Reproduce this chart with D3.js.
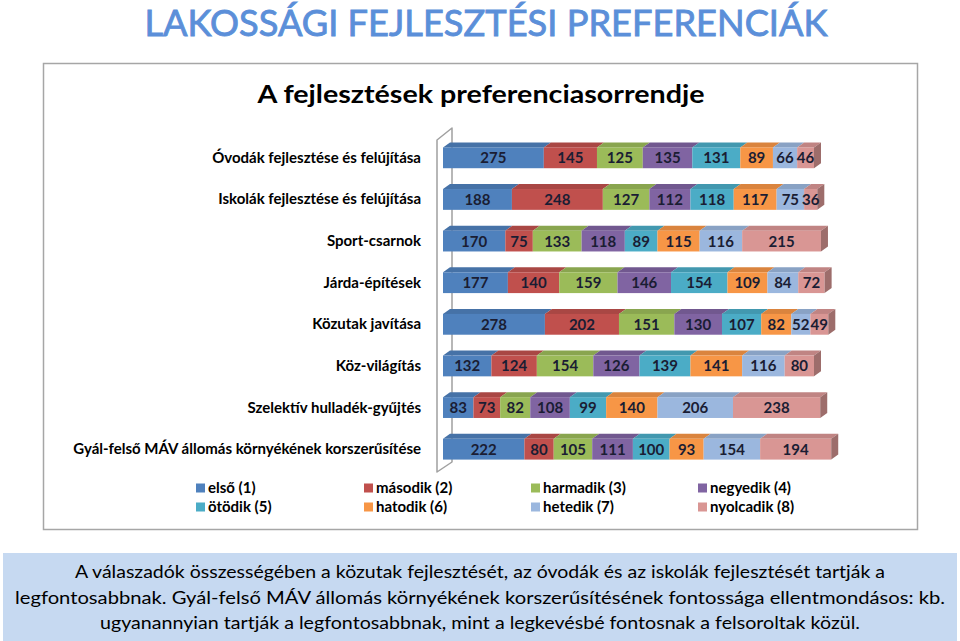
<!DOCTYPE html>
<html><head><meta charset="utf-8">
<script src="https://cdn.jsdelivr.net/npm/d3@7/dist/d3.min.js"></script>
<style>body{margin:0;background:#fff}svg{display:block}</style>
</head><body>
<svg id="c" width="960" height="641"></svg>
<script>
const categories = ["Óvodák fejlesztése és felújítása","Iskolák fejlesztése és felújítása","Sport-csarnok","Járda-építések","Közutak javítása","Köz-világítás","Szelektív hulladék-gyűjtés","Gyál-felső MÁV állomás környékének korszerűsítése"];
const seriesNames = ["első (1)","második (2)","harmadik (3)","negyedik (4)","ötödik (5)","hatodik (6)","hetedik (7)","nyolcadik (8)"];
const s1 = [275,188,170,177,278,132,83,222];
const s2 = [145,248,75,140,202,124,73,80];
const s3 = [125,127,133,159,151,154,82,105];
const s4 = [135,112,118,146,130,126,108,111];
const s5 = [131,118,89,154,107,139,99,100];
const s6 = [89,117,115,109,82,141,140,93];
const s7 = [66,75,116,84,52,116,206,154];
const s8 = [46,36,215,72,49,80,238,194];
const colors = ["#4F81BD","#C0504D","#9BBB59","#8064A2","#4BACC6","#F79646","#9BB7DE","#D99694"];
const pageTitle = "LAKOSSÁGI FEJLESZTÉSI PREFERENCIÁK";
const chartTitle = "A fejlesztések preferenciasorrendje";
const noteLines = ["A válaszadók összességében a közutak fejlesztését, az óvodák és az iskolák fejlesztését tartják a","legfontosabbnak. Gyál-felső MÁV állomás környékének korszerűsítésének fontossága ellentmondásos:  kb.","ugyanannyian tartják a legfontosabbnak, mint a legkevésbé fontosnak a felsoroltak közül."];

const series = [s1,s2,s3,s4,s5,s6,s7,s8];
const rows = categories.map((c,i)=>{const o={cat:c}; series.forEach((s,j)=>o["k"+j]=s[i]); return o;});
const keys = series.map((s,j)=>"k"+j);
const stacked = d3.stack().keys(keys)(rows);

const svg = d3.select("#c");
const font = "Lato, 'Open Sans', sans-serif";

// page title
svg.append("text").attr("x",486).attr("y",36).attr("text-anchor","middle")
  .attr("font-family",font).attr("font-size",37).attr("font-weight",400)
  .attr("fill","#5B8FD9").attr("stroke","#5B8FD9").attr("stroke-width",0.9)
  .attr("textLength",683).attr("lengthAdjust","spacingAndGlyphs").text(pageTitle);

// chart box
svg.append("rect").attr("x",43.5).attr("y",63.5).attr("width",874).attr("height",466)
  .attr("fill","#fff").attr("stroke","#a6a6a6").attr("stroke-width",1.5);

svg.append("text").attr("x",481).attr("y",103).attr("text-anchor","middle")
  .attr("font-family",font).attr("font-size",24).attr("font-weight",700)
  .attr("fill","#000").attr("textLength",447).attr("lengthAdjust","spacingAndGlyphs").text(chartTitle);

const x = d3.scaleLinear().domain([0,1100]).range([443,443+1100*0.3666]);
const y = d3.scaleBand().domain(categories).range([137,470]).paddingInner(0.5).paddingOuter(0.25);
const dx = 7, dy = -5;

// wall
svg.append("path").attr("d",`M437,472 L437,140 L452,128 L452,462 Z`)
  .attr("fill","#fff").attr("stroke","#a0a0a0").attr("stroke-width",1.5).attr("stroke-linejoin","round");

// category labels
svg.append("g").selectAll("text").data(categories).join("text")
  .attr("x",421).attr("y",d=>y(d)+y.bandwidth()/2+5).attr("text-anchor","end")
  .attr("font-family",font).attr("font-size",15).attr("font-weight",700).attr("fill","#000")
  .text(d=>d);

const g = svg.append("g");
const bh = y.bandwidth();
stacked.forEach((layer,j)=>{
  const col = d3.color(colors[j]);
  g.selectAll(null).data(layer).join("path")
    .attr("d",d=>{const x0=x(d[0]),x1=x(d[1]),yt=y(d.data.cat);
      return `M${x0},${yt} L${x0+dx},${yt+dy} L${x1+dx},${yt+dy} L${x1},${yt} Z`;})
    .attr("fill",col.darker(0.35));
});
stacked.forEach((layer,j)=>{
  const col = d3.color(colors[j]);
  g.selectAll(null).data(layer).join("rect")
    .attr("x",d=>x(d[0])).attr("y",d=>y(d.data.cat)).attr("width",d=>x(d[1])-x(d[0])).attr("height",bh)
    .attr("fill",col);
});
const last = stacked[stacked.length-1];
g.selectAll(null).data(last).join("path")
  .attr("d",d=>{const x1=x(d[1]),yt=y(d.data.cat);
    return `M${x1},${yt} L${x1+dx},${yt+dy} L${x1+dx},${yt+dy+bh} L${x1},${yt+bh} Z`;})
  .attr("fill",d3.color(colors[7]).darker(0.9));

// value labels
stacked.forEach((layer,j)=>{
  g.selectAll(null).data(layer).join("text")
    .attr("x",d=>(x(d[0])+x(d[1]))/2).attr("y",d=>y(d.data.cat)+bh/2+5.5)
    .attr("text-anchor","middle").attr("font-family",font).attr("font-size",15).attr("font-weight",700)
    .attr("fill","#1a1d33").text(d=>d[1]-d[0]);
});

// legend
const lx = [196,364,531,698], ly=[488,507];
const lg = svg.append("g");
seriesNames.forEach((n,i)=>{
  const cx = lx[i%4], cy = ly[Math.floor(i/4)];
  lg.append("rect").attr("x",cx).attr("y",cy-4.5).attr("width",9).attr("height",9).attr("fill",colors[i]);
  lg.append("text").attr("x",cx+12).attr("y",cy+5).attr("font-family",font).attr("font-size",15)
    .attr("font-weight",700).attr("fill","#000").text(n);
});

// note band
svg.append("rect").attr("x",3).attr("y",553).attr("width",954).attr("height",88).attr("fill","#C6D9F1");
const nl = [572,598,623].map(v=>v+6);
const nw = [810,930,760];
noteLines.forEach((t,i)=>{
  svg.append("text").attr("x",480).attr("y",nl[i]).attr("text-anchor","middle")
    .attr("font-family",font).attr("font-size",17).attr("fill","#000")
    .attr("textLength",nw[i]).attr("lengthAdjust","spacingAndGlyphs").text(t);
});
</script>
</body></html>
